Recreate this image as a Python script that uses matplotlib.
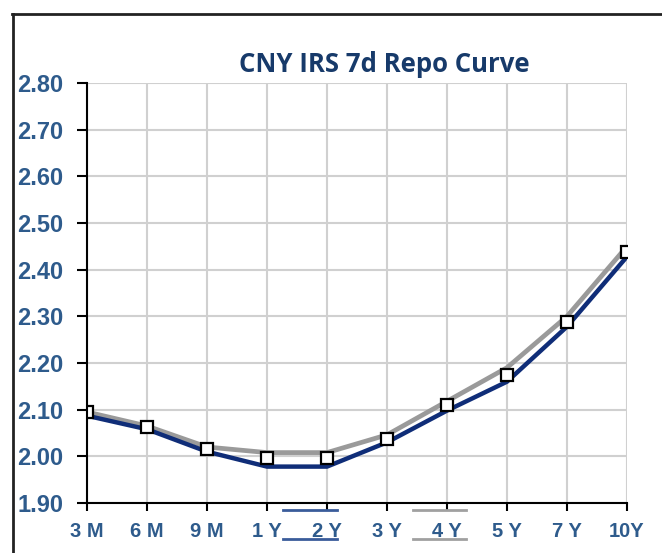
import matplotlib
matplotlib.use("Agg")
import matplotlib.pyplot as plt
from matplotlib.lines import Line2D

tenors = ["3 M", "6 M", "9 M", "1 Y", "2 Y", "3 Y", "4 Y", "5 Y", "7 Y", "10Y"]
curve_today = [2.087, 2.058, 2.010, 1.978, 1.978, 2.030, 2.098, 2.160, 2.278, 2.428]
curve_prev = [2.095, 2.065, 2.020, 2.008, 2.008, 2.046, 2.118, 2.190, 2.300, 2.450]
curve_mid = [2.094, 2.063, 2.016, 1.996, 1.996, 2.038, 2.110, 2.175, 2.288, 2.438]
y_ticks = [1.90, 2.00, 2.10, 2.20, 2.30, 2.40, 2.50, 2.60, 2.70, 2.80]
title = "CNY IRS 7d Repo Curve"

W, H = 662, 553
fig = plt.figure(figsize=(W / 100, H / 100), dpi=100)
ax = fig.add_axes([87 / W, 1 - 503 / H, (627 - 87) / W, (503 - 83) / H])

x = list(range(len(tenors)))
ax.plot(x, curve_prev, color="#9a9a9a", lw=3.4, solid_capstyle="butt", zorder=3)
ax.plot(x, curve_today, color="#0f2d78", lw=3.2, solid_capstyle="butt", zorder=4)
ax.plot(x, curve_mid, ls="none", marker="s", ms=9, mfc="white", mec="black",
        mew=1.6, zorder=5)

ax.set_xlim(0, len(tenors) - 1)
ax.set_ylim(y_ticks[0], y_ticks[-1])
ax.set_xticks(x)
ax.set_xticklabels(tenors)
ax.set_yticks(y_ticks)
ax.set_yticklabels([f"{v:.2f}" for v in y_ticks])

lab_col = "#2e5b8c"
ax.tick_params(axis="y", length=7, width=1.5, color="black", pad=10,
               labelsize=17, labelcolor=lab_col)
ax.tick_params(axis="x", length=6, width=1.5, color="black", pad=8,
               labelsize=14.5, labelcolor=lab_col)
for lab in ax.get_xticklabels() + ax.get_yticklabels():
    lab.set_family("Liberation Sans")
    lab.set_fontweight("bold")

ax.grid(True, color="#d0d0d0", lw=1.5)
ax.set_axisbelow(True)
for s in ["top", "right"]:
    ax.spines[s].set_visible(False)
for s in ["left", "bottom"]:
    ax.spines[s].set_color("black")
    ax.spines[s].set_linewidth(1.5)
    ax.spines[s].set_zorder(6)

fig.text(384 / W, 1 - 64 / H, title, ha="center", va="center", fontsize=18.5,
         fontweight="bold", color="#173a6a", family="Open Sans")

# outer frame
fig.add_artist(Line2D([13 / W, 13 / W], [0, 1 - 14 / H], transform=fig.transFigure,
                      color="#222222", lw=2))
fig.add_artist(Line2D([12 / W, 1], [1 - 14 / H, 1 - 14 / H], transform=fig.transFigure,
                      color="#222222", lw=2))

# clipped legend samples overlapping x labels
for (x0, x1, c) in [(283, 337, "#3a5c9a"), (413, 466, "#a0a0a0")]:
    for yy in (510, 539):
        fig.add_artist(Line2D([x0 / W, x1 / W], [1 - yy / H, 1 - yy / H],
                              transform=fig.transFigure, color=c, lw=2))

fig.savefig("out.png", dpi=100)
